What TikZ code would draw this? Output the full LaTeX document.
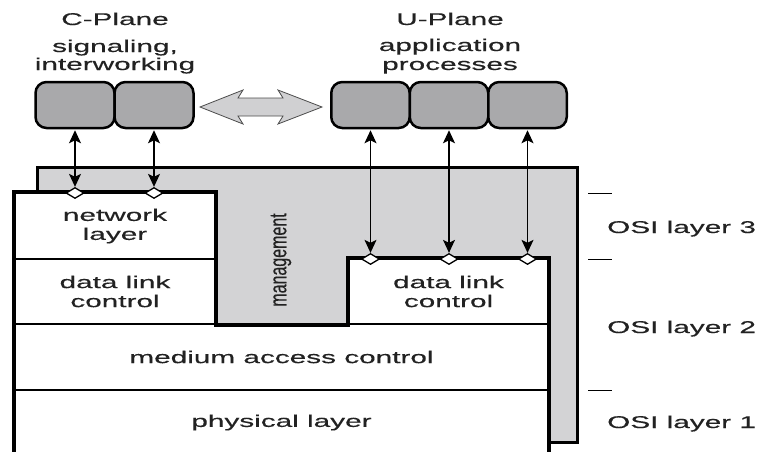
\documentclass[tikz,border=0pt]{standalone}
\usepackage{fontspec}
\usepackage{graphicx}
\setmainfont{Liberation Sans}[FakeStretch=1.75, FakeBold=0.4]
\newfontfamily\plainsans{Liberation Sans}[FakeBold=0.3]
\usetikzlibrary{arrows.meta,shapes.geometric}

\definecolor{mgmtgray}{HTML}{D3D3D5}
\definecolor{procgray}{HTML}{A9A9AB}
\definecolor{arrowgray}{HTML}{D0D0D2}
\definecolor{inkgray}{HTML}{222222}

\tikzset{
  lbl/.style={font=\fontsize{17}{19}\selectfont, text=inkgray, align=center, inner sep=0pt},
  proc/.style={draw=black, fill=procgray, line width=2.5pt, rounded corners=11pt,
    minimum width=78.5pt, minimum height=46pt, inner sep=0pt},
  layerbox/.style={draw=black, fill=white, line width=2pt, inner sep=0pt,
    font=\fontsize{17}{19}\selectfont, text=inkgray, align=center},
  sap/.style={diamond, draw=black, fill=white, line width=1.3pt, inner sep=0pt,
    minimum width=18pt, minimum height=11pt},
  link/.style={{Stealth[length=13pt,width=12pt,inset=3pt]}-{Stealth[length=13pt,width=12pt,inset=3pt]},
    line width=1.2pt, black, shorten <=1pt},
  tick/.style={line width=1pt, black}
}

\begin{document}
\begin{tikzpicture}[x=1pt, y=-1pt]
\useasboundingbox (0,0) rectangle (760,451);

% plane headings
\node[lbl, anchor=base] (cplane) at (115,25) {C-Plane};
\node[lbl, anchor=base] (sig) at (115,52) {signaling,};
\node[lbl, anchor=base] (inter) at (115,70) {interworking};
\node[lbl, anchor=base] (uplane) at (450,25) {U-Plane};
\node[lbl, anchor=base] (appl) at (450,51) {application};
\node[lbl, anchor=base] (procs) at (450,70) {processes};

% process boxes
\node[proc, minimum width=79pt] (c1) at (75,105) {};
\node[proc, minimum width=79pt] (c2) at (154,105) {};
\node[proc] (u1) at (370.5,105) {};
\node[proc] (u2) at (449,105) {};
\node[proc] (u3) at (527.5,105) {};

% interworking arrow between the planes
\draw[fill=arrowgray, draw=black!70, line width=0.8pt]
  (200,107) -- (243,90) -- (238,98) -- (283,98) -- (278,90) -- (322,107)
  -- (278,124) -- (283,116) -- (238,116) -- (243,124) -- cycle;

% management plane
\node[draw=black, fill=mgmtgray, line width=3pt, minimum width=540pt,
  minimum height=275pt, inner sep=0pt] (mgmt) at (307,304.5) {};
\node[rotate=90, text=inkgray, inner sep=0pt] (mgmtlbl) at (281,260)
  {\scalebox{1}[1.5]{\plainsans\fontsize{16}{18}\selectfont management}};

% protocol layers
\node[layerbox, minimum width=200pt, minimum height=66pt] (net) at (115,226) {network\\layer};
\node[layerbox, minimum width=200pt, minimum height=65pt] (dlcl) at (115,291.5) {data link\\control};
\node[layerbox, minimum width=199pt, minimum height=65pt] (dlcr) at (448.5,291.5) {data link\\control};
\node[layerbox, minimum width=533pt, minimum height=66pt] (mac) at (281.5,357) {medium access control};
\node[layerbox, minimum width=533pt, minimum height=65pt] (phy) at (281.5,422.5) {physical layer};

% heavy outline of the layer stack
\draw[line width=3.5pt, line join=miter]
  (phy.south west) -- (net.north west) -- (net.north east) -- (dlcl.south east)
  -- (dlcr.south west) -- (dlcr.north west) -- (dlcr.north east) -- (phy.south east);

% service access points
\node[sap] (d1) at (75,193) {};
\node[sap] (d2) at (154,193) {};
\node[sap] (d3) at (370.5,259) {};
\node[sap] (d4) at (449,259) {};
\node[sap] (d5) at (527.5,259) {};

% connections to the planes
\draw[link] (c1.south) -- (d1.north);
\draw[link] (c2.south) -- (d2.north);
\draw[link] (u1.south) -- (d3.north);
\draw[link] (u2.south) -- (d4.north);
\draw[link] (u3.south) -- (d5.north);

% OSI layer scale
\coordinate (t3a) at (588,193); \coordinate (t3b) at (612,193);
\coordinate (t2a) at (588,259); \coordinate (t2b) at (612,259);
\coordinate (t1a) at (588,390); \coordinate (t1b) at (612,390);
\draw[tick] (t3a) -- (t3b);
\draw[tick] (t2a) -- (t2b);
\draw[tick] (t1a) -- (t1b);
\node[lbl, anchor=base west] (osi3) at (607,233) {OSI layer 3};
\node[lbl, anchor=base west] (osi2) at (607,333) {OSI layer 2};
\node[lbl, anchor=base west] (osi1) at (607,428) {OSI layer 1};
\end{tikzpicture}
\end{document}
